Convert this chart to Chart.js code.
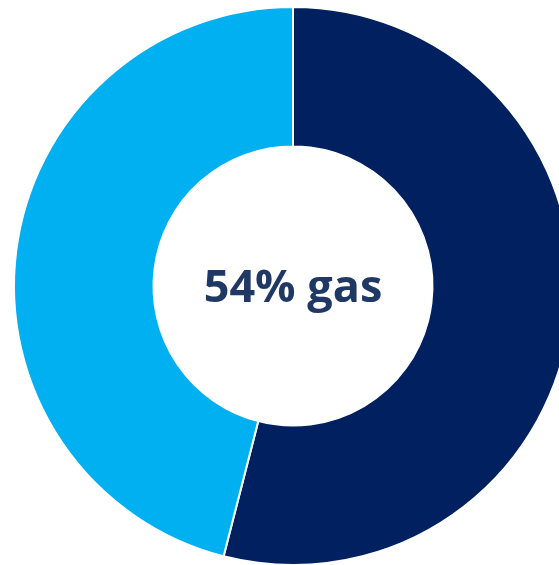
<!DOCTYPE html>
<html>
<head>
<meta charset="utf-8">
<script src="https://cdn.jsdelivr.net/npm/chart.js@4/dist/chart.umd.min.js"></script>
<style>
    html, body { margin: 0; padding: 0; background: #ffffff; overflow: hidden; }
    body { width: 559px; height: 565px; position: relative; }
    #wrap { position: absolute; left: 0; top: 0; width: 586px; height: 572px; }
    #centerLabel {
        position: absolute; left: 173px; top: 262px; width: 240px; text-align: center;
        font-family: "Open Sans", Lato, sans-serif; font-weight: 700; font-size: 45px;
        line-height: 46px; color: #203864;
    }
</style>
</head>
<body>
<div id="wrap"><canvas id="gasChart"></canvas></div>
<div id="centerLabel">54% gas</div>
<script>
const labels = ["Gas", "Other"];
const shares = [54, 46];
const sliceColors = ["#002060", "#00B0F0"];

document.addEventListener("DOMContentLoaded", () => {
    const ctx = document.getElementById("gasChart").getContext("2d");
    new Chart(ctx, {
        type: "doughnut",
        data: {
            labels: labels,
            datasets: [{
                data: shares,
                backgroundColor: sliceColors,
                borderColor: "#ffffff",
                borderWidth: 2
            }]
        },
        options: {
            responsive: true,
            maintainAspectRatio: false,
            animation: false,
            cutout: "50%",
            layout: { padding: { top: 6, bottom: 6 } },
            plugins: {
                legend: { display: false },
                tooltip: { enabled: false }
            }
        }
    });
});
</script>
</body>
</html>
